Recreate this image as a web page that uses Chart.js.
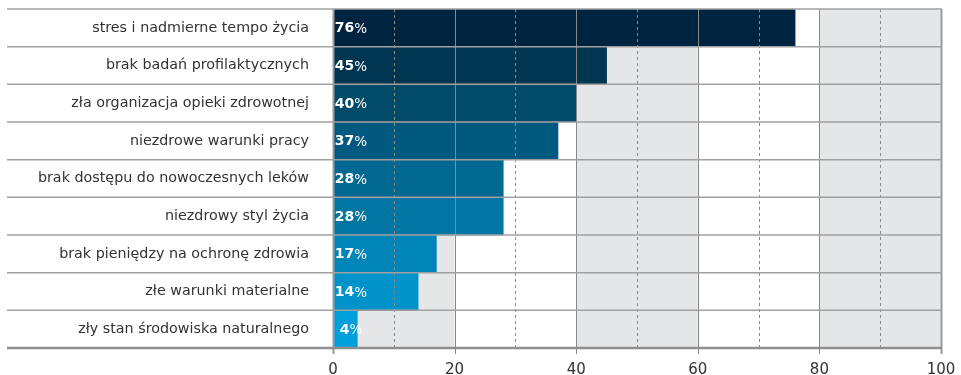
<!DOCTYPE html>
<html>
<head>
<meta charset="utf-8">
<script src="https://cdn.jsdelivr.net/npm/chart.js@4"></script>
<style>
  html, body { margin: 0; padding: 0; background: #ffffff; }
  #wrap { width: 961px; height: 375px; }
</style>
</head>
<body>
<div id="wrap"><canvas id="c" width="961" height="375"></canvas></div>
<script>
// Przyczyny złego stanu zdrowia (% wskazań)
const categories = [
  'stres i nadmierne tempo życia',
  'brak badań profilaktycznych',
  'zła organizacja opieki zdrowotnej',
  'niezdrowe warunki pracy',
  'brak dostępu do nowoczesnych leków',
  'niezdrowy styl życia',
  'brak pieniędzy na ochronę zdrowia',
  'złe warunki materialne',
  'zły stan środowiska naturalnego'
];
const values = [76, 45, 40, 37, 28, 28, 17, 14, 4];
const barColors = ['#00233f', '#013650', '#014a68', '#005a80', '#006891', '#0077a3', '#0085b9', '#0093c9', '#00a1da'];
const xTicks = [0, 20, 40, 60, 80, 100];

const FONT = "'DejaVu Sans', sans-serif";

// Shaded vertical bands behind the bars (every other 20-point span)
const bandsPlugin = {
  id: 'bands',
  beforeDatasetsDraw(chart) {
    const { ctx, chartArea: a, scales: { x } } = chart;
    ctx.save();
    ctx.fillStyle = '#e5e6e8';
    for (let v = 0; v < 100; v += 40) {
      const x0 = x.getPixelForValue(v), x1 = x.getPixelForValue(v + 20);
      ctx.fillRect(x0, a.top, x1 - x0, a.bottom - a.top);
    }
    ctx.restore();
  }
};

// Grid lines, row separators, frame and value labels drawn on top of the bars
const overlayPlugin = {
  id: 'overlay',
  afterDatasetsDraw(chart) {
    const { ctx, chartArea: a, scales: { x } } = chart;
    ctx.save();
    // dashed minor lines
    ctx.strokeStyle = '#8a8a8a';
    ctx.lineWidth = 1;
    ctx.setLineDash([3, 3]);
    for (let v = 10; v < 100; v += 20) {
      const px = Math.round(x.getPixelForValue(v)) + 0.5;
      ctx.beginPath(); ctx.moveTo(px, a.top); ctx.lineTo(px, a.bottom); ctx.stroke();
    }
    ctx.setLineDash([]);
    // solid major lines with small ticks below the axis
    xTicks.forEach(v => {
      const px = Math.round(x.getPixelForValue(v)) + 0.5;
      ctx.lineWidth = (v === 0 || v === 100) ? 2 : 1;
      ctx.strokeStyle = (v === 0 || v === 100) ? '#9a9a9a' : '#888888';
      ctx.beginPath(); ctx.moveTo(px, a.top); ctx.lineTo(px, a.bottom + 6); ctx.stroke();
    });
    // horizontal row separators (extend into the label column)
    const leftEdge = 7;
    const n = categories.length;
    const step = (a.bottom - a.top) / n;
    for (let i = 0; i <= n; i++) {
      const py = a.top + i * step;
      ctx.lineWidth = (i === n) ? 2.5 : 1.5;
      ctx.strokeStyle = (i === n) ? '#8f8f8f' : '#a0a0a0';
      ctx.beginPath(); ctx.moveTo(leftEdge, py); ctx.lineTo(a.right + 1, py); ctx.stroke();
    }
    // value labels: bold number + lighter percent sign
    const meta = chart.getDatasetMeta(0);
    ctx.fillStyle = '#ffffff';
    ctx.textBaseline = 'middle';
    ctx.textAlign = 'left';
    meta.data.forEach((bar, i) => {
      const num = String(values[i]);
      ctx.font = 'bold 14px ' + FONT;
      const w1 = ctx.measureText(num).width;
      ctx.font = '13.5px ' + FONT;
      const w2 = ctx.measureText('%').width;
      const cx = x.getPixelForValue(0) + 18;
      const sx = cx - (w1 + w2) / 2;
      ctx.font = 'bold 14px ' + FONT;
      ctx.fillText(num, sx, bar.y + 1);
      ctx.font = '13.5px ' + FONT;
      ctx.fillText('%', sx + w1, bar.y + 1.5);
    });
    ctx.restore();
  }
};

new Chart(document.getElementById('c'), {
  type: 'bar',
  data: {
    labels: categories,
    datasets: [{
      data: values,
      backgroundColor: barColors,
      borderWidth: 0,
      categoryPercentage: 1.0,
      barPercentage: 1.0
    }]
  },
  options: {
    indexAxis: 'y',
    responsive: false,
    animation: false,
    events: [],
    layout: { padding: { top: 9, right: 20, left: 0, bottom: 0 } },
    plugins: { legend: { display: false }, tooltip: { enabled: false } },
    scales: {
      x: {
        min: 0, max: 100,
        afterBuildTicks(scale) { scale.ticks = xTicks.map(v => ({ value: v })); },
        afterFit(scale) {
          scale.height = 27;
          scale.paddingLeft = 0; scale.paddingRight = 0;
        },
        grid: { display: false, drawTicks: false },
        border: { display: false },
        ticks: { color: '#333333', font: { family: FONT, size: 15 }, padding: 13, maxRotation: 0 }
      },
      y: {
        afterFit(scale) {
          scale.width = 333;
          scale.paddingTop = 0; scale.paddingBottom = 0;
        },
        grid: { display: false, drawTicks: false },
        border: { display: false },
        ticks: { color: '#333333', font: { family: FONT, size: 14.3 }, padding: 24 }
      }
    }
  },
  plugins: [bandsPlugin, overlayPlugin]
});
</script>
</body>
</html>
